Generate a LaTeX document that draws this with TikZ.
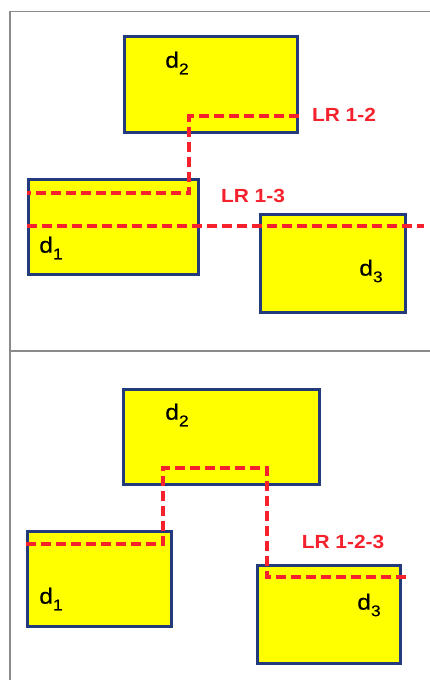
\documentclass[tikz,border=0pt]{standalone}
\usepackage{fontspec}
\setmainfont{Liberation Sans}
\newfontfamily\regionfont[FakeBold=0.6]{Liberation Sans}
\definecolor{boxfill}{HTML}{FFFF00}
\definecolor{boxline}{HTML}{233A7C}
\definecolor{lrred}{HTML}{F5222D}
\definecolor{framegray}{HTML}{8A8A8A}
% region label: letter d with a lowered index, set a little wide
\newcommand{\dlab}[1]{\scalebox{1.12}[1]{\regionfont\fontsize{22}{22}\selectfont d\raisebox{-0.3em}{\fontsize{15.5}{15.5}\selectfont #1}}}
\newcommand{\lrtext}[1]{\scalebox{1.1}[1]{#1}}
\tikzset{
  regbox/.style={draw=boxline, fill=boxfill, line width=2.5pt, anchor=north west, inner sep=0pt},
  dlabel/.style={inner sep=0pt, anchor=center, text=black},
  lrpath/.style={draw=lrred, line width=3.6pt, dash pattern=on 10pt off 5pt},
  lrlabel/.style={inner sep=0pt, anchor=center, text=lrred, font=\fontsize{19}{19}\selectfont\bfseries},
  framerule/.style={draw=framegray, line width=1.6pt}
}
\begin{document}
\begin{tikzpicture}[x=1pt,y=-1pt]
  \useasboundingbox (0,0) rectangle (430,680);
  \fill[white] (0,0) rectangle (430,680);
  % panel frames
  \draw[framerule] (430,11.5) -- (10,11.5) -- (10,680);
  \draw[framerule] (10,351) -- (430,351);

  % ---------- upper panel ----------
  \node[regbox, minimum width=173pt, minimum height=96pt] (t2) at (123,35) {};
  \node[regbox, minimum width=170pt, minimum height=95pt] (t1) at (27,178) {};
  \node[regbox, minimum width=145pt, minimum height=98pt] (t3) at (259,213) {};
  \node[dlabel] (t2l) at (177,63) {\dlab{2}};
  \node[dlabel] (t1l) at (51,248) {\dlab{1}};
  \node[dlabel] (t3l) at (371,271) {\dlab{3}};

  \coordinate (a1) at (t2.east |- 0,116);
  \coordinate (a2) at (189,116);
  \coordinate (a3) at (189,193);
  \coordinate (a4) at (t1.west |- 0,193);
  \draw[lrpath] (a1) -- (a2) -- (a3) -- (a4);
  \coordinate (c1) at (t1.west |- 0,226);
  \coordinate (c2) at (424,226);
  \draw[lrpath] (c1) -- (c2);
  \node[lrlabel] (lr12) at (344,115) {\lrtext{LR 1-2}};
  \node[lrlabel] (lr13) at (253,196) {\lrtext{LR 1-3}};

  % ---------- lower panel ----------
  \node[regbox, minimum width=196pt, minimum height=95pt] (b2) at (122,388) {};
  \node[regbox, minimum width=144pt, minimum height=95pt] (b1) at (26,530) {};
  \node[regbox, minimum width=143pt, minimum height=98pt] (b3) at (256,564) {};
  \node[dlabel] (b2l) at (177,415) {\dlab{2}};
  \node[dlabel] (b1l) at (51,599) {\dlab{1}};
  \node[dlabel] (b3l) at (369,605) {\dlab{3}};

  \coordinate (p1) at (b1.west |- 0,544);
  \coordinate (p2) at (163,544);
  \coordinate (p3) at (163,468);
  \coordinate (p4) at (267,468);
  \coordinate (p5) at (267,577);
  \coordinate (p6) at (408,577);
  \draw[lrpath] (p1) -- (p2) -- (p3) -- (p4) -- (p5) -- (p6);
  \node[lrlabel] (lr123) at (343,542) {\lrtext{LR 1-2-3}};
\end{tikzpicture}
\end{document}
